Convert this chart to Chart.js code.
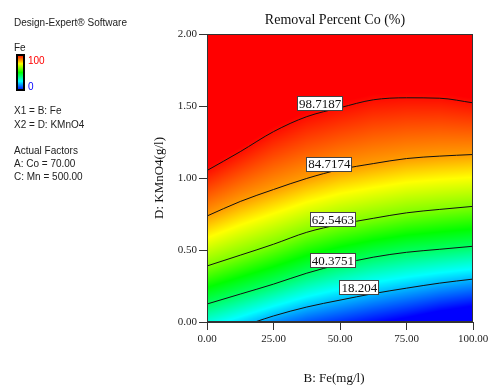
<!DOCTYPE html>
<html>
<head>
<meta charset="utf-8">
<script src="https://cdn.jsdelivr.net/npm/chart.js@4.4.1/dist/chart.umd.min.js"></script>
<style>
html, body { margin: 0; padding: 0; background: #fff; }
</style>
</head>
<body>
<canvas id="chart" width="492" height="385"></canvas>
<script>
const feSteps = [0, 12.5, 25, 37.5, 50, 62.5, 75, 87.5, 100];
const feSteps18 = [18, 25, 37.5, 50, 62.5, 75, 87.5, 100];

// D: KMnO4 (g/l) of each contour line
const kmno4At98 = [1.052, 1.183, 1.322, 1.426, 1.488, 1.543, 1.557, 1.554, 1.522];
const kmno4At84 = [0.736, 0.837, 0.920, 0.997, 1.059, 1.100, 1.135, 1.152, 1.163];
const kmno4At62 = [0.389, 0.464, 0.540, 0.623, 0.678, 0.720, 0.758, 0.782, 0.803];
const kmno4At40 = [0.125, 0.194, 0.263, 0.339, 0.401, 0.450, 0.484, 0.505, 0.526];
const kmno4At18 = [0.000, 0.042, 0.104, 0.152, 0.197, 0.235, 0.270, 0.298];

// contour levels and where their labels sit
const levels = [98.7187, 84.7174, 62.5463, 40.3751, 18.204];
const labelFe = [42.5, 46, 47.3, 47.3, 57.3];
const labelKmno4 = [1.52, 1.097, 0.709, 0.429, 0.239];

// axis ticks
const feTicks = [0, 25, 50, 75, 100];
const kmno4Ticks = [0, 0.5, 1, 1.5, 2];

// colour scale: blue -> cyan -> green -> yellow -> red
const colourStops = [
    [0, [0, 0, 255]],
    [25, [0, 255, 255]],
    [50, [0, 255, 0]],
    [75, [255, 255, 0]],
    [100, [255, 0, 0]]
];

const contours = [
    { value: levels[0], fe: feSteps, km: kmno4At98 },
    { value: levels[1], fe: feSteps, km: kmno4At84 },
    { value: levels[2], fe: feSteps, km: kmno4At62 },
    { value: levels[3], fe: feSteps, km: kmno4At40 },
    { value: levels[4], fe: feSteps18, km: kmno4At18 }
];

const serif = "'Liberation Serif', 'Times New Roman', serif";
const sans = "'Liberation Sans', Arial, sans-serif";

// linear lookup along a contour (extends the end segments)
function kmAt(c, fe) {
    const xs = c.fe, ys = c.km;
    let i = 0;
    while (i < xs.length - 2 && fe > xs[i + 1]) i++;
    const t = (fe - xs[i]) / (xs[i + 1] - xs[i]);
    return ys[i] + t * (ys[i + 1] - ys[i]);
}

function valueAt(pts, km) {
    let i = 0;
    while (i < pts.length - 2 && km > pts[i + 1][0]) i++;
    const a = pts[i], b = pts[i + 1];
    const v = a[1] + (km - a[0]) / (b[0] - a[0]) * (b[1] - a[1]);
    return Math.max(0, Math.min(100, v));
}

function colourFor(v) {
    for (let i = 0; i < colourStops.length - 1; i++) {
        const [v0, c0] = colourStops[i];
        const [v1, c1] = colourStops[i + 1];
        if (v <= v1) {
            const t = (v - v0) / (v1 - v0);
            return [0, 1, 2].map(k => Math.round(c0[k] + t * (c1[k] - c0[k])));
        }
    }
    return colourStops[colourStops.length - 1][1];
}

// shaded response surface behind the contour lines
const surfacePlugin = {
    id: 'surface',
    beforeDatasetsDraw(chart) {
        const { ctx, chartArea: a, scales: { x, y } } = chart;
        const left = Math.round(a.left), top = Math.round(a.top);
        const w = Math.round(a.right) - left, h = Math.round(a.bottom) - top;
        const img = ctx.createImageData(w, h);
        for (let i = 0; i < w; i++) {
            const fe = x.getValueForPixel(left + i + 0.5);
            const pts = contours.map(c => [kmAt(c, fe), c.value]).sort((p, q) => p[0] - q[0]);
            for (let j = 0; j < h; j++) {
                const km = y.getValueForPixel(top + j + 0.5);
                const col = colourFor(valueAt(pts, km));
                const o = (j * w + i) * 4;
                img.data[o] = col[0];
                img.data[o + 1] = col[1];
                img.data[o + 2] = col[2];
                img.data[o + 3] = 255;
            }
        }
        ctx.putImageData(img, left, top);
    }
};

// frame, contour labels, titles and the side panel
const decorPlugin = {
    id: 'decor',
    afterDatasetsDraw(chart) {
        const { ctx, chartArea: a, scales: { x, y } } = chart;
        ctx.save();
        ctx.strokeStyle = '#333';
        ctx.lineWidth = 1;
        ctx.strokeRect(Math.round(a.left) + 0.5, Math.round(a.top) + 0.5,
            Math.round(a.right - a.left) - 1, Math.round(a.bottom - a.top) - 1);

        ctx.font = '13px ' + serif;
        ctx.textAlign = 'center';
        ctx.textBaseline = 'middle';
        levels.forEach((lv, i) => {
            const px = x.getPixelForValue(labelFe[i]);
            const py = y.getPixelForValue(labelKmno4[i]);
            const text = String(lv);
            const bw = Math.round(ctx.measureText(text).width) + 4;
            const bh = 15;
            const bx = Math.round(px - bw / 2), by = Math.round(py - bh / 2);
            ctx.fillStyle = '#fff';
            ctx.fillRect(bx, by, bw, bh);
            ctx.strokeStyle = '#444';
            ctx.strokeRect(bx + 0.5, by + 0.5, bw - 1, bh - 1);
            ctx.fillStyle = '#111';
            ctx.fillText(text, px, py + 1);
        });
        ctx.restore();
    },
    afterDraw(chart) {
        const { ctx } = chart;
        ctx.save();
        ctx.fillStyle = '#111';
        ctx.font = '14px ' + serif;
        ctx.textAlign = 'center';
        ctx.textBaseline = 'alphabetic';
        ctx.fillText('Removal Percent Co (%)', 335, 24);
        ctx.font = '13px ' + serif;
        ctx.fillText('B: Fe(mg/l)', 334, 382);

        ctx.textAlign = 'left';
        ctx.font = '10px ' + sans;
        ctx.fillStyle = '#222';
        ctx.fillText('Design-Expert\u00AE Software', 14, 26);
        ctx.fillText('Fe', 14, 51);
        ctx.fillText('X1 = B: Fe', 14, 114);
        ctx.fillText('X2 = D: KMnO4', 14, 128);
        ctx.fillText('Actual Factors', 14, 154);
        ctx.fillText('A: Co = 70.00', 14, 167);
        ctx.fillText('C: Mn = 500.00', 14, 180);

        // colour bar
        const g = ctx.createLinearGradient(0, 55, 0, 90);
        colourStops.forEach(([v, c]) => g.addColorStop(1 - v / 100, `rgb(${c[0]},${c[1]},${c[2]})`));
        ctx.fillStyle = g;
        ctx.fillRect(17, 55, 7, 35);
        ctx.strokeStyle = '#000';
        ctx.lineWidth = 2;
        ctx.strokeRect(17, 55, 7, 35);
        ctx.fillStyle = '#ff0000';
        ctx.fillText('100', 28, 64);
        ctx.fillStyle = '#0000ff';
        ctx.fillText('0', 28, 90);
        ctx.restore();
    }
};

const lineStyle = {
    borderColor: '#111',
    borderWidth: 1,
    pointRadius: 0,
    showLine: true,
    fill: false,
    cubicInterpolationMode: 'monotone'
};

const datasets = contours.map(c => Object.assign({
    label: String(c.value),
    data: c.fe.map((f, i) => ({ x: f, y: c.km[i] }))
}, lineStyle));

const axisTicks = {
    font: { family: serif, size: 11 },
    color: '#222',
    padding: 3
};

new Chart(document.getElementById('chart'), {
    type: 'scatter',
    data: { datasets },
    options: {
        responsive: false,
        animation: false,
        devicePixelRatio: 1,
        layout: { padding: { left: 150, right: 19, top: 34, bottom: 0 } },
        plugins: {
            legend: { display: false },
            tooltip: { enabled: false }
        },
        scales: {
            x: {
                type: 'linear',
                min: feTicks[0],
                max: feTicks[feTicks.length - 1],
                afterBuildTicks: s => { s.ticks = feTicks.map(v => ({ value: v })); },
                ticks: Object.assign({ callback: v => Number(v).toFixed(2), maxRotation: 0 }, axisTicks),
                grid: { drawOnChartArea: false, tickLength: 8, color: '#333' },
                border: { display: true, color: '#333' },
                afterFit: s => { s.height = 63; }
            },
            y: {
                type: 'linear',
                min: kmno4Ticks[0],
                max: kmno4Ticks[kmno4Ticks.length - 1],
                afterBuildTicks: s => { s.ticks = kmno4Ticks.map(v => ({ value: v })); },
                ticks: Object.assign({ callback: v => Number(v).toFixed(2) }, axisTicks, { padding: 2 }),
                grid: { drawOnChartArea: false, tickLength: 8, color: '#333' },
                border: { display: true, color: '#333' },
                title: {
                    display: true,
                    text: 'D: KMnO4(g/l)',
                    font: { family: serif, size: 13 },
                    color: '#111',
                    padding: { top: 2, bottom: 0 }
                },
                afterFit: s => { s.width = 57; }
            }
        }
    },
    plugins: [surfacePlugin, decorPlugin]
});
</script>
</body>
</html>
